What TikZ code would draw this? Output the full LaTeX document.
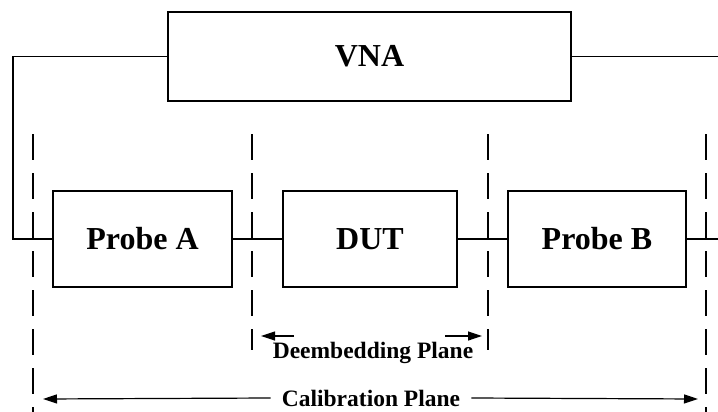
\documentclass[tikz,border=0pt]{standalone}
\usepackage{fontspec}
\setmainfont{Liberation Serif}
\usetikzlibrary{arrows.meta}
\begin{document}
\begin{tikzpicture}[x=1pt,y=-1pt,
  box/.style={draw, line width=1.5pt, inner sep=0pt, font=\fontsize{32}{32}\selectfont\bfseries},
  wire/.style={line width=1.2pt},
  plane/.style={line width=1.1pt, dash pattern=on 26pt off 13pt},
  harrow/.style={line width=1.2pt, -{Triangle[length=14pt,width=9pt]}},
  lbl/.style={font=\fontsize{23.5}{23.5}\selectfont\bfseries, inner sep=1pt}]
\useasboundingbox (0,0) rectangle (718,412);
\node[box, minimum width=403pt, minimum height=89pt] (vna) at (369.5,56.5) {VNA};
\node[box, minimum width=179pt, minimum height=96pt] (pa) at (142.5,239) {Probe A};
\node[box, minimum width=174pt, minimum height=96pt] (dut) at (370,239) {DUT};
\node[box, minimum width=178pt, minimum height=96pt] (pb) at (597,239) {Probe B};
% wires
\coordinate (lc) at (13,56.5);
\coordinate (rend) at (718,56.5);
\coordinate (rend2) at (718,239);
\draw[wire] (vna.west) -- (lc) |- (pa.west);
\draw[wire] (vna.east) -- (rend);
\draw[wire] (pa.east) -- (dut.west);
\draw[wire] (dut.east) -- (pb.west);
\draw[wire] (pb.east) -- (rend2);
% planes
\coordinate (p1t) at (33,134); \coordinate (p1b) at (33,412);
\coordinate (p2t) at (252,134); \coordinate (p2b) at (252,350);
\coordinate (p3t) at (488,134); \coordinate (p3b) at (488,350);
\coordinate (p4t) at (706,134); \coordinate (p4b) at (706,412);
\draw[plane] (p1t) -- (p1b);
\draw[plane] (p2t) -- (p2b);
\draw[plane] (p3t) -- (p3b);
\draw[plane] (p4t) -- (p4b);
% labels
\node[lbl] (de) at (373,353) {Deembedding Plane};
\coordinate (d1s) at (294,336); \coordinate (d1e) at (261,336);
\coordinate (d2s) at (445,336); \coordinate (d2e) at (482,336);
\draw[harrow] (d1s) -- (d1e);
\draw[harrow] (d2s) -- (d2e);
\node[lbl] (cal) at (371,398) {Calibration Plane};
\coordinate (c1e) at (43,399); \coordinate (c2e) at (698,399);
\draw[harrow] (cal.west) ++(-10pt,0) coordinate (c1s) -- (c1e);
\draw[harrow] (cal.east) ++(10pt,0) coordinate (c2s) -- (c2e);
\end{tikzpicture}
\end{document}
